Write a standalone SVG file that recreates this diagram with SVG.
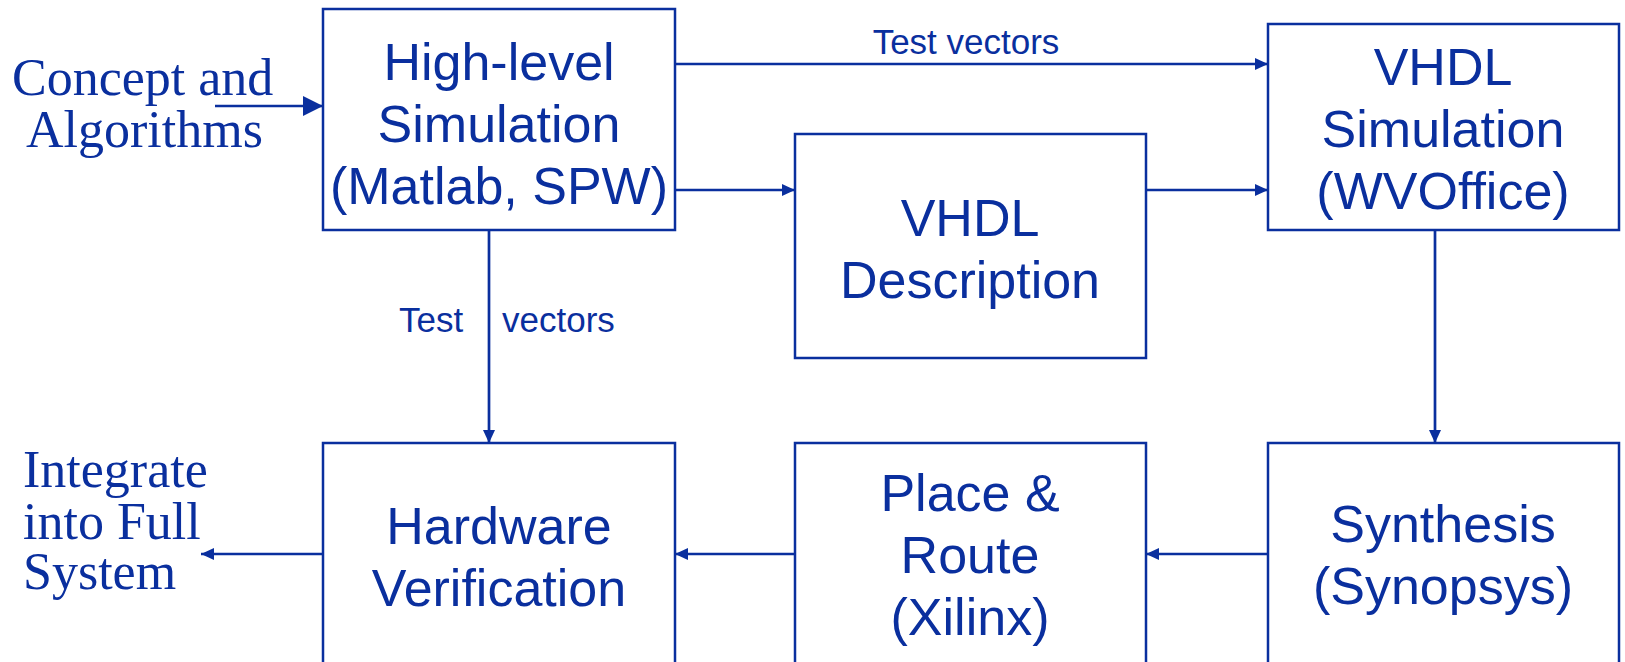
<svg xmlns="http://www.w3.org/2000/svg" width="1625" height="662" viewBox="0 0 1625 662">
<style>
.box{fill:#fff;stroke:#0a2f9e;stroke-width:2.5}
.t{font-family:"Liberation Sans",Arial,sans-serif;font-size:52px;fill:#0a2f9e;text-anchor:middle}
.l{font-family:"Liberation Sans",Arial,sans-serif;font-size:35px;fill:#0a2f9e}
.s{font-family:"Liberation Serif","Times New Roman",serif;font-size:52px;fill:#0a2f9e}
.c{stroke:#0a2f9e;stroke-width:2.7;fill:none;marker-end:url(#ah)}
</style>
<defs>
<marker id="ah" viewBox="0 0 13 12" refX="13" refY="6" markerWidth="13" markerHeight="12" markerUnits="userSpaceOnUse" orient="auto">
<path d="M0,0 L13,6 L0,12 Z" fill="#0a2f9e"/>
</marker>
<marker id="ahb" viewBox="0 0 20 20" refX="20" refY="10" markerWidth="20" markerHeight="20" markerUnits="userSpaceOnUse" orient="auto">
<path d="M0,0 L20,10 L0,20 Z" fill="#0a2f9e"/>
</marker>
</defs>
<rect width="1625" height="662" fill="#fff"/>
<g id="connectors">
<line class="c" x1="215" y1="106" x2="323" y2="106" style="marker-end:url(#ahb)"/>
<line class="c" x1="675" y1="64" x2="1268" y2="64"/>
<line class="c" x1="675" y1="190" x2="795" y2="190"/>
<line class="c" x1="1146" y1="190" x2="1268" y2="190"/>
<line class="c" x1="489" y1="230" x2="489" y2="443"/>
<line class="c" x1="1435" y1="230" x2="1435" y2="443"/>
<line class="c" x1="1268" y1="554" x2="1146" y2="554"/>
<line class="c" x1="795" y1="554" x2="675" y2="554"/>
<line class="c" x1="323" y1="554" x2="201" y2="554"/>
<text class="l" x="966" y="54" text-anchor="middle">Test vectors</text>
<text class="l" x="399" y="332">Test</text>
<text class="l" x="502" y="332">vectors</text>
</g>
<g id="concept">
<text class="s" x="12" y="95">Concept and</text>
<text class="s" x="26" y="147">Algorithms</text>
</g>
<g id="integrate">
<text class="s" x="23" y="487">Integrate</text>
<text class="s" x="23" y="539">into Full</text>
<text class="s" x="23" y="589">System</text>
</g>
<g id="highlevel">
<rect class="box" x="323" y="9" width="352" height="221"/>
<text class="t" x="499" y="80">High-level</text>
<text class="t" x="499" y="142">Simulation</text>
<text class="t" x="499" y="204">(Matlab, SPW)</text>
</g>
<g id="vhdldesc">
<rect class="box" x="795" y="134" width="351" height="224"/>
<text class="t" x="970" y="236">VHDL</text>
<text class="t" x="970" y="298">Description</text>
</g>
<g id="vhdlsim">
<rect class="box" x="1268" y="24" width="351" height="206"/>
<text class="t" x="1443" y="85">VHDL</text>
<text class="t" x="1443" y="147">Simulation</text>
<text class="t" x="1443" y="209">(WVOffice)</text>
</g>
<g id="hwverif">
<rect class="box" x="323" y="443" width="352" height="240"/>
<text class="t" x="499" y="544">Hardware</text>
<text class="t" x="499" y="606">Verification</text>
</g>
<g id="placeroute">
<rect class="box" x="795" y="443" width="351" height="240"/>
<text class="t" x="970" y="511">Place &amp;</text>
<text class="t" x="970" y="573">Route</text>
<text class="t" x="970" y="635">(Xilinx)</text>
</g>
<g id="synthesis">
<rect class="box" x="1268" y="443" width="351" height="240"/>
<text class="t" x="1443" y="542">Synthesis</text>
<text class="t" x="1443" y="604">(Synopsys)</text>
</g>
</svg>
